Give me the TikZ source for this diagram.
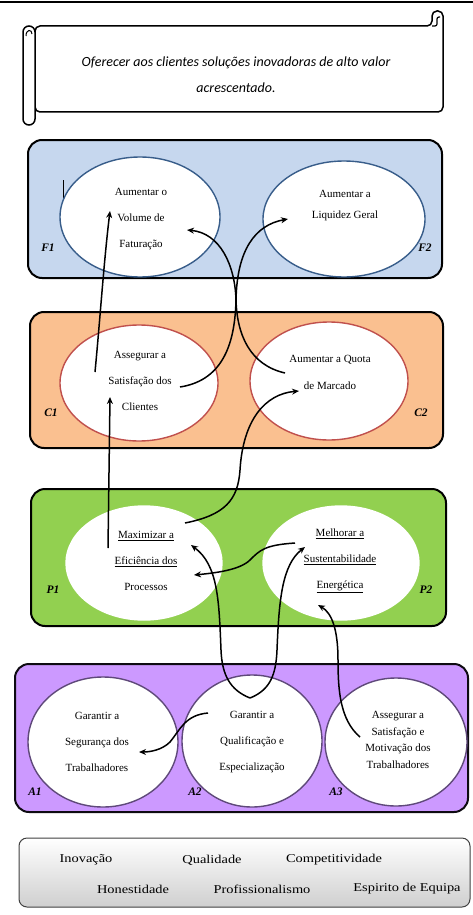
\documentclass[tikz,border=0pt]{standalone}
\usepackage{fontspec}
\setmainfont{Liberation Serif}
\newfontfamily\calfont{Carlito}
\newfontfamily\widefont[FakeStretch=1.2]{Liberation Serif}
\usetikzlibrary{shapes.geometric,arrows.meta}
\definecolor{fblue}{HTML}{C6D7EE}
\definecolor{fedge}{HTML}{385D8A}
\definecolor{corange}{HTML}{FAC090}
\definecolor{cedge}{HTML}{C0504D}
\definecolor{pgreen}{HTML}{92D050}
\definecolor{apurple}{HTML}{CC99FF}
\definecolor{aedge}{HTML}{5F497A}
\definecolor{vgray}{HTML}{CFCFCF}
\begin{document}
\begin{tikzpicture}[x=1pt,y=-1pt,
  box/.style={rounded corners=14pt, line width=2pt, draw=black},
  ell/.style={ellipse, line width=1.4pt, fill=white, inner sep=0pt},
  txt/.style={font=\fontsize{11}{26}\selectfont, align=center, inner sep=0pt},
  lab/.style={font=\fontsize{11.5}{13}\selectfont\bfseries\itshape, inner sep=0pt},
  val/.style={font=\widefont\fontsize{12}{14}\selectfont, inner sep=0pt},
  arr/.style={-{Stealth[length=7pt,width=6pt]}, line width=1.5pt}]
\useasboundingbox (0,0) rectangle (473,915);
% top rule
\draw[line width=1.4pt] (0,2) -- (473,2);
% scroll
\draw[line width=1.5pt, fill=white, rounded corners=5pt] (35,26) -- (432,26) -- (432,11) -- (443,11) -- (443,112) -- (35,112) -- cycle;
\draw[line width=1.2pt, rounded corners=2pt] (432,26) -- (437,26) -- (437,17) -- (440,17);
\draw[line width=1.5pt, fill=white, rounded corners=6pt] (23,26) rectangle (35,125);
\draw[line width=1pt] (26,36) .. controls (26,29) and (32,29) .. (32,34);
\node[font=\calfont\itshape\fontsize{14}{26}\selectfont, align=center] (mission) at (236,75) {Oferecer aos clientes soluções inovadoras de alto valor\\acrescentado.};

% F box
\draw[box, fill=fblue] (28,140) rectangle (442,278);
\node[lab] (f1l) at (48,248) {F1};
\node[lab] (f2l) at (425,248) {F2};
\draw[line width=0.8pt] (63,180) -- (63,200);
\node[ell, draw=fedge, minimum width=160pt, minimum height=120pt] (f1e) at (140,217) {};
\node[ell, draw=fedge, minimum width=162pt, minimum height=116pt] (f2e) at (344,219) {};
\node[txt] (f1t) at (141,219) {Aumentar o\\Volume de\\Faturação};
\node[txt, font=\fontsize{11}{21}\selectfont] (f2t) at (345,206) {Aumentar a\\Liquidez Geral};

% C box
\draw[box, fill=corange] (30,312) rectangle (443,448);
\node[lab] (c1l) at (51,413) {C1};
\node[lab] (c2l) at (421,413) {C2};
\node[ell, draw=cedge, minimum width=158pt, minimum height=116pt] (c1e) at (139,383) {};
\node[ell, draw=cedge, minimum width=158pt, minimum height=118pt] (c2e) at (329,381) {};
\node[txt] (c1t) at (140,381) {Assegurar a\\Satisfação dos\\Clientes};
\node[txt, font=\fontsize{11}{27}\selectfont] (c2t) at (330,372) {Aumentar a Quota\\de Marcado};

% P box
\draw[box, fill=pgreen] (31,489) rectangle (446,626);
\node[lab] (p1l) at (53,590) {P1};
\node[lab] (p2l) at (426,590) {P2};
\node[ell, draw=white, minimum width=156pt, minimum height=114pt] (p1e) at (144,563) {};
\node[ell, draw=white, minimum width=156pt, minimum height=114pt] (p2e) at (341,563) {};
\node[txt] (p1t) at (146,561) {\underline{Maximizar a}\\\underline{Eficiência dos}\\Processos};
\node[txt] (p2t) at (340,561) {\underline{Melhorar a}\\\underline{Sustentabilidade}\\\underline{Energética}};

% A box
\draw[box, fill=apurple, draw=black!85!aedge] (15,664) rectangle (468,812);
\node[lab] (a1l) at (35,792) {A1};
\node[lab] (a2l) at (195,792) {A2};
\node[lab] (a3l) at (336,792) {A3};
\node[ell, draw=aedge, minimum width=150pt, minimum height=130pt] (a1e) at (103,742) {};
\node[ell, draw=aedge, minimum width=140pt, minimum height=132pt] (a2e) at (252,741) {};
\node[ell, draw=aedge, minimum width=142pt, minimum height=128pt] (a3e) at (396,742) {};
\node[txt] (a1t) at (97,742) {Garantir a\\Segurança dos\\Trabalhadores};
\node[txt] (a2t) at (252,742) {Garantir a\\Qualificação e\\Especialização};
\node[txt, font=\fontsize{11}{16.7}\selectfont] (a3t) at (398,740) {Assegurar a\\Satisfação e\\Motivação dos\\Trabalhadores};

% values box
\draw[rounded corners=8pt, line width=1pt, draw=black!75, top color=white, bottom color=vgray] (19,838) rectangle (470,907);
\node[val] (v1) at (86,860) {Inovação};
\node[val] (v2) at (212,860) {Qualidade};
\node[val] (v3) at (334,860) {Competitividade};
\node[val] (v4) at (133,889) {Honestidade};
\node[val] (v5) at (262,889) {Profissionalismo};
\node[val] (v6) at (407,889) {Espirito de Equipa};

% connector end points
\coordinate (c1a) at (95,372);
\coordinate (f1a) at (110,211);
\coordinate (c1b) at (180,387);
\coordinate (f2a) at (288,219);
\coordinate (c2a) at (285,373);
\coordinate (f1b) at (187,230);
\coordinate (p1a) at (108,548);
\coordinate (c1c) at (110,397);
\coordinate (p1b) at (185,523);
\coordinate (c2b) at (299,391);
\coordinate (p2a) at (295,543);
\coordinate (p1c) at (194,575);
\coordinate (a2a) at (250,698);
\coordinate (p1d) at (191,545);
\coordinate (p2b) at (305,547);
\coordinate (a3a) at (360,737);
\coordinate (p2c) at (318,605);
\coordinate (a2b) at (208,713);
\coordinate (a1a) at (139,752);

% connectors
\draw[arr] (c1a) .. controls (100,320) and (104,260) .. (f1a);
\draw[arr] (c1b) .. controls (225,380) and (235,340) .. (236,300) .. controls (237,250) and (255,225) .. (f2a);
\draw[arr] (c2a) .. controls (250,365) and (237,335) .. (236,300) .. controls (235,265) and (220,233) .. (f1b);
\draw[arr] (p1a) -- (c1c);
\draw[arr] (p1b) .. controls (225,515) and (238,500) .. (240,470) .. controls (243,420) and (265,394) .. (c2b);
\draw[arr] (p2a) .. controls (265,545) and (260,550) .. (250,560) .. controls (240,570) and (215,573) .. (p1c);
\draw[arr] (a2a) .. controls (230,690) and (222,675) .. (221,650) .. controls (219,600) and (218,565) .. (p1d);
\draw[arr] (a2a) .. controls (270,690) and (276,675) .. (277,650) .. controls (279,600) and (282,565) .. (p2b);
\draw[arr] (a3a) .. controls (340,720) and (338,690) .. (338,660) .. controls (338,630) and (332,613) .. (p2c);
\draw[arr] (a2b) .. controls (185,715) and (180,730) .. (170,742) .. controls (162,750) and (150,752) .. (a1a);
\end{tikzpicture}
\end{document}
